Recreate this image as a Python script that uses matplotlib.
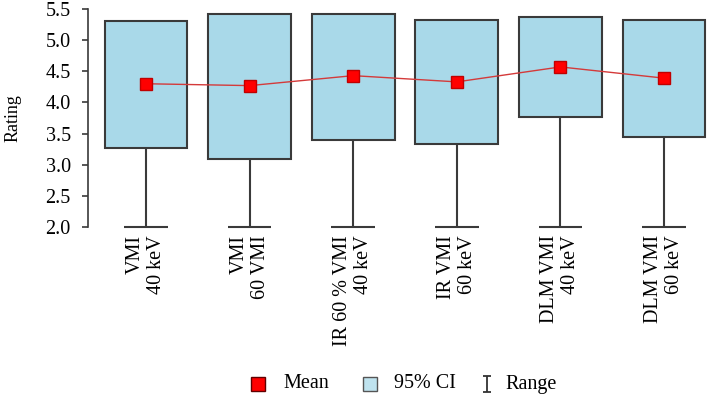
import matplotlib
matplotlib.use("Agg")
import matplotlib.pyplot as plt
from matplotlib.lines import Line2D
from matplotlib.path import Path

# data
groups = [
    "VMI\n40 keV",
    "VMI\n60 VMI",
    "IR 60 % VMI\n40 keV",
    "IR VMI\n60 keV",
    "DLM VMI\n40 keV",
    "DLM VMI\n60 keV",
]
mean_rating = [4.30, 4.27, 4.43, 4.33, 4.57, 4.39]
ci_low = [3.27, 3.09, 3.40, 3.33, 3.77, 3.44]
ci_high = [5.30, 5.42, 5.42, 5.32, 5.37, 5.32]
range_low = [2.0, 2.0, 2.0, 2.0, 2.0, 2.0]
legend_labels = ["Mean", "95% CI", "Range"]

plt.rcParams["font.family"] = ["Liberation Serif", "DejaVu Serif"]

W, H = 707, 397
fig = plt.figure(figsize=(W / 100, H / 100), dpi=100)
# axes placed in pixel terms: left 88, right 707, top 9, bottom 227
ax = fig.add_axes([88 / W, (H - 227) / H, (W - 88) / W, (227 - 9) / H])

x = list(range(1, len(groups) + 1))
edge = "#3a3a3a"

# whiskers (range) below the CI boxes
ax.vlines(x, range_low, ci_low, color=edge, lw=1.5, zorder=1, clip_on=False)
ax.hlines(range_low, [i - 0.21 for i in x], [i + 0.21 for i in x],
          color=edge, lw=1.5, zorder=1, clip_on=False)

heights = [h - l for h, l in zip(ci_high, ci_low)]
ax.bar(x, heights, bottom=ci_low, width=0.8, color="#a9d9e9",
       edgecolor=edge, linewidth=1.5, zorder=2)

ax.plot(x, mean_rating, color="#d43a3a", lw=1.0, marker="s", markersize=8,
        markerfacecolor="#ff0000", markeredgecolor="#c00000", zorder=3)

ax.set_xlim(0.44, 6.415)
ax.set_ylim(2.0, 5.5)
ax.set_yticks([2.0, 2.5, 3.0, 3.5, 4.0, 4.5, 5.0, 5.5])
ax.set_yticklabels([f"{v:.1f}" for v in ax.get_yticks()])
ax.set_xticks(x)
ax.set_xticklabels(groups, rotation=90, va="top", ha="center",
                   multialignment="right", linespacing=1.15)
ax.tick_params(axis="x", length=0, pad=6, labelsize=14.5)
ax.tick_params(axis="y", length=4.5, width=1.2, color=edge, pad=8, labelsize=14.5)
ax.set_ylabel("Rating", fontsize=13, labelpad=17)

for s in ["top", "right", "bottom"]:
    ax.spines[s].set_visible(False)
ax.spines["left"].set_color(edge)
ax.spines["left"].set_linewidth(1.2)

# legend, laid out by hand along the bottom
ibeam = Path([(-0.5, -1), (0.5, -1), (0, -1), (0, 1), (-0.5, 1), (0.5, 1)],
             [Path.MOVETO, Path.LINETO, Path.MOVETO, Path.LINETO, Path.MOVETO, Path.LINETO])
marker_styles = [
    dict(marker="s", markersize=10, markerfacecolor="#ff0000", markeredgecolor="#600000"),
    dict(marker="s", markersize=10, markerfacecolor="#bfe3ef", markeredgecolor="#555555"),
    dict(marker=ibeam, markersize=11, markeredgecolor="#333333", markeredgewidth=1.3),
]
marker_px = [258, 370, 487]
text_px = [283, 394, 505]
ly = (H - 384) / H
for lab, st, mx, tx in zip(legend_labels, marker_styles, marker_px, text_px):
    fig.add_artist(Line2D([mx / W], [ly], ls="none", transform=fig.transFigure, **st))
    fig.text(tx / W, ly, lab, fontsize=14.5, va="center", ha="left")

fig.savefig("out.png", dpi=100)
